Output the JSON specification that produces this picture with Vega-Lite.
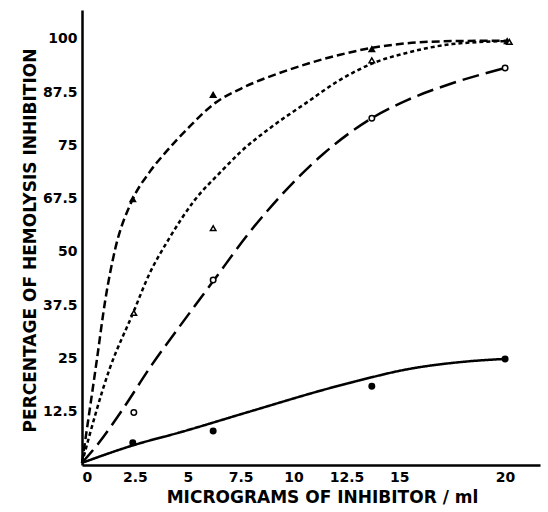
{
  "$schema": "https://vega.github.io/schema/vega-lite/v6.json",
  "width": 458,
  "height": 455,
  "autosize": "none",
  "padding": {"left": 82, "top": 10, "right": 8, "bottom": 47},
  "background": "white",
  "config": {
    "view": {"stroke": null},
    "axis": {
      "domainColor": "black",
      "domainWidth": 2.5,
      "ticks": false,
      "labelPadding": 5,
      "labelFont": "DejaVu Sans",
      "labelFontWeight": "bold",
      "labelFontSize": 14,
      "labelColor": "black",
      "titleFont": "DejaVu Sans",
      "titleFontWeight": "bold",
      "titleFontSize": 17,
      "titleColor": "black",
      "grid": false
    }
  },
  "datasets": {
    "curves": [
      {"series": "A", "x": 0, "y": 0.5},
      {"series": "A", "x": 0.7, "y": 24.6},
      {"series": "A", "x": 1.1, "y": 38.7},
      {"series": "A", "x": 1.56, "y": 50.5},
      {"series": "A", "x": 2.36, "y": 62},
      {"series": "A", "x": 3.2, "y": 68.8},
      {"series": "A", "x": 3.92, "y": 73.2},
      {"series": "A", "x": 5.06, "y": 79.3},
      {"series": "A", "x": 6.3, "y": 85},
      {"series": "A", "x": 7.5, "y": 88.3},
      {"series": "A", "x": 9.8, "y": 92.8},
      {"series": "A", "x": 12.2, "y": 96.3},
      {"series": "A", "x": 13.8, "y": 98},
      {"series": "A", "x": 15.4, "y": 99},
      {"series": "A", "x": 17.5, "y": 99.5},
      {"series": "A", "x": 20.1, "y": 99.6},
      {"series": "B", "x": 0, "y": 0.5},
      {"series": "B", "x": 1.3, "y": 22.5},
      {"series": "B", "x": 2.4, "y": 35.5},
      {"series": "B", "x": 3.2, "y": 45},
      {"series": "B", "x": 4.1, "y": 53},
      {"series": "B", "x": 5.3, "y": 62},
      {"series": "B", "x": 6.6, "y": 69},
      {"series": "B", "x": 7.5, "y": 73.5},
      {"series": "B", "x": 9, "y": 79.5},
      {"series": "B", "x": 10.6, "y": 85},
      {"series": "B", "x": 12.2, "y": 90.4},
      {"series": "B", "x": 13.8, "y": 94.4},
      {"series": "B", "x": 15.4, "y": 96.8},
      {"series": "B", "x": 17.5, "y": 98.8},
      {"series": "B", "x": 20.1, "y": 99.5},
      {"series": "C", "x": 0, "y": 0.5},
      {"series": "C", "x": 0.8, "y": 5.2},
      {"series": "C", "x": 1.9, "y": 12.9},
      {"series": "C", "x": 3.3, "y": 23.5},
      {"series": "C", "x": 4.73, "y": 33.3},
      {"series": "C", "x": 6.24, "y": 43.4},
      {"series": "C", "x": 7.9, "y": 54.5},
      {"series": "C", "x": 9, "y": 61},
      {"series": "C", "x": 11.4, "y": 73},
      {"series": "C", "x": 13.7, "y": 81.4},
      {"series": "C", "x": 15.4, "y": 85.7},
      {"series": "C", "x": 17.5, "y": 89.6},
      {"series": "C", "x": 20, "y": 93.2},
      {"series": "D", "x": 0, "y": 0.5},
      {"series": "D", "x": 2.4, "y": 4.6},
      {"series": "D", "x": 4.73, "y": 7.8},
      {"series": "D", "x": 7.9, "y": 12.5},
      {"series": "D", "x": 11.9, "y": 18.3},
      {"series": "D", "x": 13.7, "y": 20.6},
      {"series": "D", "x": 15, "y": 22.1},
      {"series": "D", "x": 18.2, "y": 24.3},
      {"series": "D", "x": 20, "y": 24.9}
    ],
    "points": [
      {"series": "A", "x": 2.4, "y": 62.4},
      {"series": "A", "x": 6.2, "y": 86.9},
      {"series": "A", "x": 13.7, "y": 97.6},
      {"series": "A", "x": 20.1, "y": 99.5},
      {"series": "B", "x": 2.45, "y": 35.7},
      {"series": "B", "x": 6.2, "y": 55.6},
      {"series": "B", "x": 13.7, "y": 95},
      {"series": "B", "x": 20.2, "y": 99.3},
      {"series": "C", "x": 2.45, "y": 12.3},
      {"series": "C", "x": 6.2, "y": 43.4},
      {"series": "C", "x": 13.7, "y": 81.4},
      {"series": "C", "x": 20, "y": 93.2},
      {"series": "D", "x": 2.4, "y": 5.2},
      {"series": "D", "x": 6.2, "y": 8},
      {"series": "D", "x": 13.7, "y": 18.5},
      {"series": "D", "x": 20, "y": 24.9}
    ]
  },
  "encoding": {
    "x": {
      "field": "x",
      "type": "quantitative",
      "scale": {"domain": [0, 21.65], "nice": false, "zero": false},
      "axis": {
        "values": [0, 2.5, 5, 7.5, 10, 12.5, 15, 20],
        "labelExpr": "toString(datum.value)",
        "title": "MICROGRAMS OF INHIBITOR / ml",
        "titlePadding": 5,
        "titleX": 240
      }
    },
    "y": {
      "field": "y",
      "type": "quantitative",
      "scale": {"domain": [0, 106.8], "nice": false},
      "axis": {
        "values": [12.5, 25, 37.5, 50, 62.5, 75, 87.5, 100],
        "labelExpr": "datum.value == 62.5 ? '67.5' : toString(datum.value)",
        "title": "PERCENTAGE OF HEMOLYSIS INHIBITION",
        "titlePadding": 3,
        "titleY": 230
      }
    }
  },
  "layer": [
    {
      "data": {"name": "curves"},
      "mark": {"type": "line", "interpolate": "monotone", "color": "black", "strokeWidth": 2.5},
      "encoding": {
        "detail": {"field": "series"},
        "strokeDash": {
          "field": "series",
          "type": "nominal",
          "scale": {"domain": ["A", "B", "C", "D"], "range": [[8, 4], [4, 3], [17, 7], [1, 0]]},
          "legend": null
        }
      }
    },
    {
      "data": {"name": "points"},
      "mark": {"type": "point", "filled": true, "stroke": "black", "strokeWidth": 1.5, "opacity": 1},
      "encoding": {
        "shape": {
          "field": "series",
          "type": "nominal",
          "scale": {"domain": ["A", "B", "C", "D"], "range": ["triangle-up", "triangle-up", "circle", "circle"]},
          "legend": null
        },
        "fill": {
          "field": "series",
          "type": "nominal",
          "scale": {"domain": ["A", "B", "C", "D"], "range": ["black", "white", "white", "black"]},
          "legend": null
        },
        "size": {
          "field": "series",
          "type": "nominal",
          "scale": {"domain": ["A", "B", "C", "D"], "range": [30, 30, 35, 55]},
          "legend": null
        }
      }
    }
  ]
}
